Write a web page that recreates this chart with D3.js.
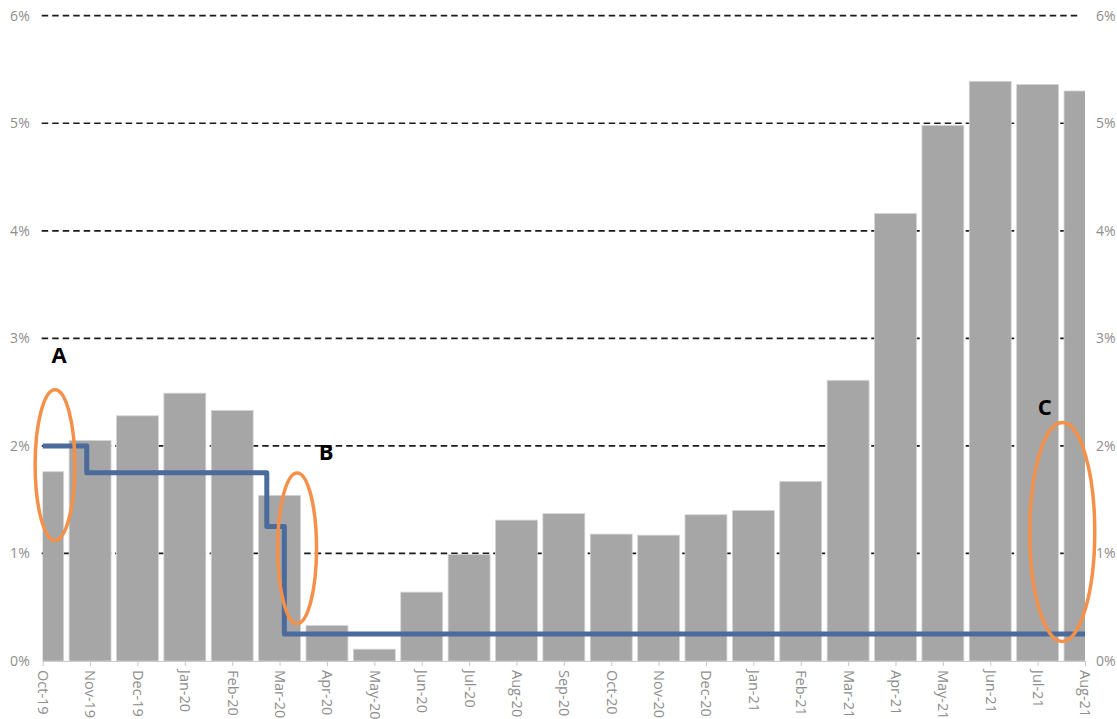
<!DOCTYPE html>
<html>
<head>
<meta charset="utf-8">
<script src="https://cdn.jsdelivr.net/npm/d3@7"></script>
<style>
  html, body { margin: 0; padding: 0; background: #fff; }
  svg { display: block; }
</style>
</head>
<body>
<svg id="chart" width="1117" height="719"></svg>
<script>
// ---- data ----
const months = ["Oct-19","Nov-19","Dec-19","Jan-20","Feb-20","Mar-20","Apr-20","May-20","Jun-20","Jul-20","Aug-20","Sep-20","Oct-20","Nov-20","Dec-20","Jan-21","Feb-21","Mar-21","Apr-21","May-21","Jun-21","Jul-21","Aug-21"];
const barValues = [1.76, 2.05, 2.28, 2.49, 2.33, 1.54, 0.33, 0.11, 0.64, 0.99, 1.31, 1.37, 1.18, 1.17, 1.36, 1.40, 1.67, 2.61, 4.16, 4.98, 5.39, 5.36, 5.30];
// policy rate step line: position in months from Oct-19, rate in %
const rateMonths = [0, 0.93, 4.73, 5.10, 22];
const rateValues = [2.00, 1.75, 1.25, 0.25, 0.25];
const yTicks = [0, 1, 2, 3, 4, 5, 6];
// annotations (month position, % value)
const annoLabels = ["A", "B", "C"];
const annoLabelMonth = [0.344, 5.98, 21.15];
const annoLabelValue = [2.845, 1.943, 2.357];
const ellipseMonth = [0.26, 5.37, 21.52];
const ellipseValue = [1.822, 1.048, 1.20];
const ellipseRxMonths = [0.42, 0.41, 0.686];
const ellipseRyValue = [0.70, 0.70, 1.018];

// ---- layout ----
const svg = d3.select("#chart");
const plotL = 42.7, plotR = 1085, plotT = 15.7, plotB = 661;
const x = d3.scaleLinear().domain([0, months.length - 1]).range([plotL, plotR]);
const y = d3.scaleLinear().domain([0, 6]).range([plotB, plotT]);
const step = x(1) - x(0);
const barW = step * 0.885;

svg.append("defs").append("clipPath").attr("id", "plotclip")
  .append("rect").attr("x", plotL).attr("y", 0).attr("width", plotR - plotL).attr("height", plotB + 1);

// gridlines
svg.append("g").selectAll("line").data(yTicks.filter(d => d > 0)).join("line")
  .attr("x1", plotL - 1).attr("x2", plotR - 4)
  .attr("y1", d => y(d)).attr("y2", d => y(d))
  .attr("stroke", "#1a1a1a").attr("stroke-width", 1.7).attr("stroke-dasharray", "6.5,4");

// bars
svg.append("g").attr("clip-path", "url(#plotclip)").selectAll("rect").data(barValues).join("rect")
  .attr("x", (d, i) => x(i) - barW / 2)
  .attr("width", barW)
  .attr("y", d => y(d))
  .attr("height", d => y(0) - y(d))
  .attr("fill", "#a6a6a6")
  .attr("stroke", "#d4d4d4").attr("stroke-width", 0.8);

// x axis
const xAxis = d3.axisBottom(x).tickValues(d3.range(months.length))
  .tickFormat(i => months[i]).tickSize(5).tickSizeOuter(0);
const gx = svg.append("g").attr("transform", `translate(0,${plotB})`).call(xAxis);
gx.select(".domain").attr("stroke", "#c8c8c8").attr("stroke-width", 1.2);
gx.selectAll(".tick line").attr("stroke", "#c8c8c8");
gx.selectAll(".tick text")
  .attr("font-family", "'Open Sans', 'Liberation Sans', sans-serif")
  .attr("font-size", 14.5).attr("fill", "#8e8e8e")
  .attr("transform", "rotate(90)")
  .attr("text-anchor", "start")
  .attr("x", 9).attr("y", 0).attr("dy", "0.35em");

// y axes (left and right)
const fmt = d => d + "%";
const gyl = svg.append("g").attr("transform", `translate(${plotL - 13},0)`)
  .call(d3.axisLeft(y).tickValues(yTicks).tickFormat(fmt).tickSize(0));
const gyr = svg.append("g").attr("transform", `translate(${plotR + 11},0)`)
  .call(d3.axisRight(y).tickValues(yTicks).tickFormat(fmt).tickSize(0));
[gyl, gyr].forEach(g => {
  g.select(".domain").remove();
  g.selectAll("text").attr("font-family", "'Open Sans', 'Liberation Sans', sans-serif")
    .attr("font-size", 14).attr("fill", "#8e8e8e").attr("x", 0);
});

// step line
const line = d3.line().x(d => x(d[0])).y(d => y(d[1])).curve(d3.curveStepAfter);
svg.append("path")
  .datum(rateMonths.map((m, i) => [m, rateValues[i]]))
  .attr("d", line)
  .attr("fill", "none").attr("stroke", "#4a6b9b").attr("stroke-width", 5)
  .attr("stroke-linejoin", "round");

// annotation ellipses
svg.append("g").selectAll("ellipse").data(ellipseMonth).join("ellipse")
  .attr("cx", (d) => x(d))
  .attr("cy", (d, i) => y(ellipseValue[i]))
  .attr("rx", (d, i) => ellipseRxMonths[i] * step)
  .attr("ry", (d, i) => y(0) - y(ellipseRyValue[i]))
  .attr("fill", "none").attr("stroke", "#f4904a").attr("stroke-width", 3.5);

// annotation letters
svg.append("g").selectAll("text").data(annoLabels).join("text")
  .attr("x", (d, i) => x(annoLabelMonth[i]))
  .attr("y", (d, i) => y(annoLabelValue[i]))
  .attr("dy", "0.36em")
  .attr("text-anchor", "middle")
  .attr("font-family", "'Open Sans', 'Liberation Sans', Arial, sans-serif")
  .attr("font-weight", "bold").attr("font-size", 22).attr("fill", "#000")
  .text(d => d);
</script>
</body>
</html>
